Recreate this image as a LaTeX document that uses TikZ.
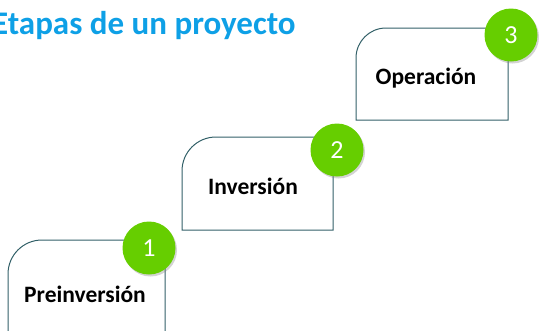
\documentclass[tikz,border=0pt]{standalone}
\usepackage{fontspec}
\setmainfont{Carlito}
\usetikzlibrary{positioning, shadows}
\definecolor{titleblue}{RGB}{14,160,230}
\definecolor{stepgreen}{RGB}{102,206,0}
\definecolor{edgeteal}{RGB}{50,96,104}

\begin{document}
\begin{tikzpicture}[
        x=1pt, y=-1pt,
        stage/.style={draw=edgeteal, line width=1pt},
        stagetext/.style={font=\bfseries\fontsize{23.5}{23.5}\selectfont},
        badge/.style={circle, fill=stepgreen, minimum size=53pt, inner sep=0pt, text=white,
            font=\fontsize{26}{26}\selectfont,
            drop shadow={opacity=0.35, shadow xshift=1.5pt, shadow yshift=-2pt}}
    ]
        \useasboundingbox (0,0) rectangle (539,330);

        \node[anchor=base west, inner sep=0pt, text=titleblue, font=\bfseries\fontsize{33}{33}\selectfont] (titulo) at (-8,34) {Etapas de un proyecto};

        % escalones
        \draw[stage] (8,340) [rounded corners=34pt] -- (8,240) [sharp corners] -- (165,240) -- (165,340);
        \draw[stage] (182,230) [rounded corners=34pt] -- (182,137) [sharp corners] -- (333,137) -- (333,230) -- cycle;
        \draw[stage] (356,120) [rounded corners=30pt] -- (356,28) [sharp corners] -- (508,28) -- (508,120) -- cycle;

        \node[stagetext] (preinversion) at (85,294) {Preinversión};
        \node[stagetext] (inversion) at (253,186) {Inversión};
        \node[stagetext] (operacion) at (426,78) {Operación};

        \node[badge] (paso1) at (149,248) {1};
        \node[badge] (paso2) at (337,150) {2};
        \node[badge] (paso3) at (511,35) {3};
    \end{tikzpicture}
\end{document}
